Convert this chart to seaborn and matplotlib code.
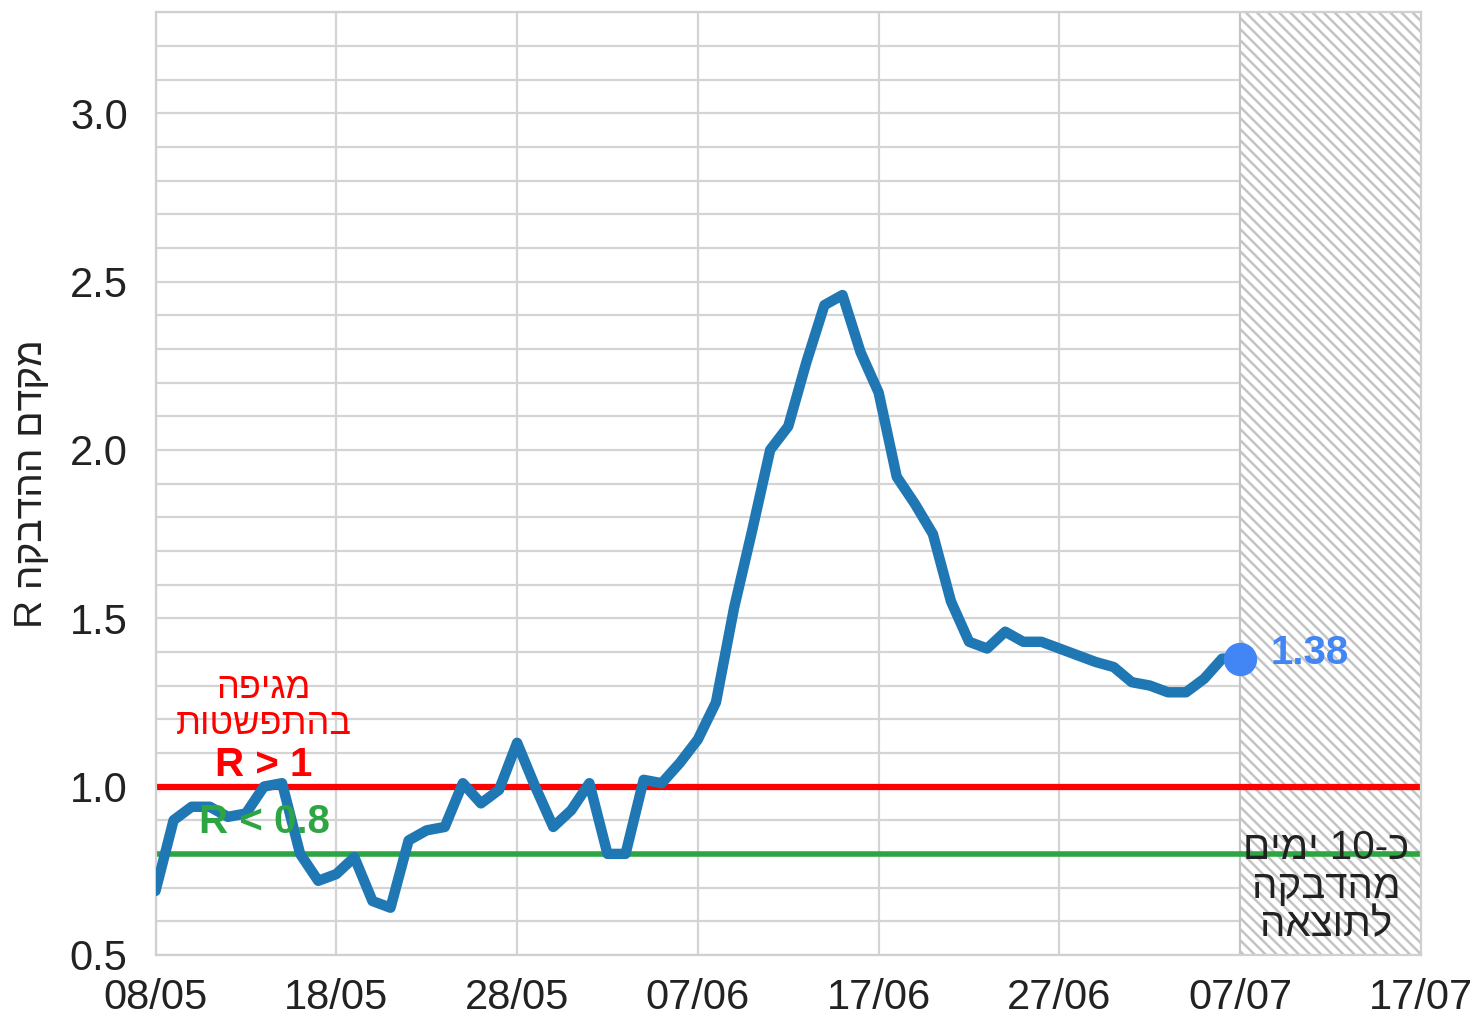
import re
import numpy as np
import pandas as pd
import matplotlib
matplotlib.use("Agg")
import matplotlib.pyplot as plt
import matplotlib.dates as mdates
from matplotlib.ticker import MultipleLocator
import seaborn as sns

# daily R values from 08/05 to 07/07
start_date = "2020-05-08"
r_values = [0.69, 0.90, 0.94, 0.94, 0.91, 0.92, 1.00, 1.01, 0.80, 0.72,
            0.74, 0.79, 0.66, 0.64, 0.84, 0.87, 0.88, 1.01, 0.95, 0.99,
            1.13, 1.00, 0.88, 0.93, 1.01, 0.80, 0.80, 1.02, 1.01, 1.07,
            1.14, 1.25, 1.53, 1.76, 2.00, 2.07, 2.26, 2.43, 2.46, 2.29,
            2.17, 1.92, 1.84, 1.75, 1.55, 1.43, 1.41, 1.46, 1.43, 1.43,
            1.41, 1.39, 1.37, 1.355, 1.31, 1.30, 1.28, 1.28, 1.32, 1.38,
            1.38]
x_start = "2020-05-08"
x_end = "2020-07-17"
delay_start = "2020-07-07"
threshold_high = 1.0
threshold_low = 0.8
last_label = "1.38"

y_label = "מקדם ההדבקה R"
high_label = ["מגיפה", "בהתפשטות"]
high_r_label = "R > 1"
low_r_label = "R < 0.8"
delay_label = ["כ-10 ימים", "מהדבקה", "לתוצאה"]


def rtl(s):
    # matplotlib has no bidi support: flip to visual order, keep latin/digit runs
    r = s[::-1]
    return re.sub(r"[0-9A-Za-z.]+", lambda m: m.group(0)[::-1], r)


df = pd.DataFrame({
    "date": pd.date_range(start_date, periods=len(r_values), freq="D"),
    "R": r_values,
})

sns.set_theme(style="whitegrid")
plt.rcParams["font.family"] = ["Liberation Sans", "DejaVu Sans"]
plt.rcParams["hatch.linewidth"] = 1.8

fig = plt.figure(figsize=(14.81, 10.18), dpi=100)
ax = fig.add_axes([0.105, 0.062, 0.8545, 0.926])

# delay zone
ax.axvspan(pd.Timestamp(delay_start), pd.Timestamp(x_end), facecolor="white",
           edgecolor="#c4c4c4", hatch="\\\\\\", linewidth=1.5, zorder=1)

ax.axhline(threshold_high, color="#ff0000", lw=4.5, zorder=2)
ax.axhline(threshold_low, color="#2ea543", lw=4.0, zorder=2)

sns.lineplot(data=df, x="date", y="R", ax=ax, color="#1f77b4", lw=7.5,
             zorder=3)
ax.plot(df["date"].iloc[-1], df["R"].iloc[-1], "o", color="#4285f4",
        markersize=23, zorder=4)
ax.annotate(last_label, (df["date"].iloc[-1], df["R"].iloc[-1]),
            xytext=(22, 4), textcoords="offset points", color="#4285f4",
            fontsize=29, fontweight="bold", va="center", ha="left", zorder=5)

# threshold annotations
mid = pd.Timestamp("2020-05-14")
ax.text(mid, 1.292, rtl(high_label[0]), color="#ff0000", fontsize=26,
        ha="center", va="center", zorder=5)
ax.text(mid, 1.185, rtl(high_label[1]), color="#ff0000", fontsize=26,
        ha="center", va="center", zorder=5)
ax.text(mid, 1.065, high_r_label, color="#ff0000", fontsize=29,
        fontweight="bold", ha="center", va="center", zorder=5)
ax.text(mid, 0.895, low_r_label, color="#2ea543", fontsize=29,
        fontweight="bold", ha="center", va="center", zorder=5)
delay_mid = pd.Timestamp("2020-07-12") - pd.Timedelta(hours=6)
for s, yv in zip(delay_label, [0.818, 0.702, 0.589]):
    ax.text(delay_mid, yv, rtl(s), color="#222222", fontsize=29,
            ha="center", va="center", zorder=5)

ax.set_xlim(pd.Timestamp(x_start), pd.Timestamp(x_end))
ax.set_ylim(0.5, 3.3)
ax.set_xticks(pd.date_range(x_start, x_end, freq="10D"))
ax.xaxis.set_major_formatter(mdates.DateFormatter("%d/%m"))
ax.yaxis.set_major_locator(MultipleLocator(0.5))
ax.yaxis.set_minor_locator(MultipleLocator(0.1))
ax.grid(which="both", color="#d4d4d4", lw=1.6)
ax.set_axisbelow(True)
ax.tick_params(axis="both", which="both", length=0, labelsize=30,
               labelcolor="#222222")
ax.tick_params(axis="x", pad=17)
ax.tick_params(axis="y", pad=20)
ax.set_xlabel("")
ax.set_ylabel(rtl(y_label), fontsize=28, color="#222222", labelpad=14)
for sp in ax.spines.values():
    sp.set_color("#d0d0d0")
    sp.set_linewidth(1.6)

fig.savefig("out.png", dpi=100)
